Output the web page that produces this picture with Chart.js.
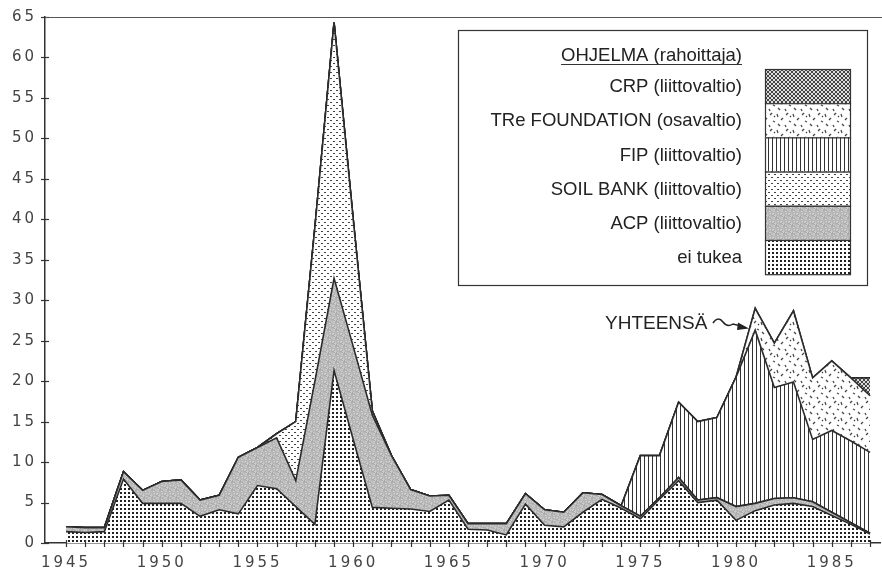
<!DOCTYPE html>
<html>
<head>
<meta charset="utf-8">
<script src="https://cdn.jsdelivr.net/npm/chart.js@4.4.0/dist/chart.umd.min.js"></script>
<style>
  html, body { margin: 0; padding: 0; background: #fff; }
  #wrap { width: 882px; height: 574px; }
</style>
</head>
<body>
<div id="wrap"><canvas id="chart" width="882" height="574"></canvas></div>
<script>
// years on the x axis
const years = [1945, 1946, 1947, 1948, 1949, 1950, 1951, 1952, 1953, 1954,
  1955, 1956, 1957, 1958, 1959, 1960, 1961, 1962, 1963, 1964,
  1965, 1966, 1967, 1968, 1969, 1970, 1971, 1972, 1973, 1974,
  1975, 1976, 1977, 1978, 1979, 1980, 1981, 1982, 1983, 1984,
  1985, 1986, 1987];

// stacked series, bottom to top
const eiTukea = [1.4, 1.3, 1.4, 7.9, 4.9, 4.9, 4.9, 3.3, 4.1, 3.6,
  7.1, 6.7, 4.5, 2.3, 21.3, 12.8, 4.4, 4.3, 4.2, 3.9,
  5.3, 1.7, 1.6, 1.0, 4.8, 2.2, 2.0, 3.8, 5.4, 4.3,
  3.0, 5.4, 7.7, 5.0, 5.3, 2.8, 4.0, 4.7, 4.9, 4.5,
  3.4, 2.3, 1.1];
const acp = [0.6, 0.6, 0.5, 0.9, 1.6, 2.7, 2.9, 2.0, 1.8, 7.0,
  4.7, 6.3, 3.2, 17.7, 11.4, 11.5, 11.4, 6.5, 2.4, 1.9,
  0.6, 0.7, 0.8, 1.4, 1.3, 1.9, 1.8, 2.4, 0.6, 0.3,
  0.3, 0.2, 0.4, 0.3, 0.3, 1.7, 0.9, 0.8, 0.7, 0.6,
  0.4, 0.2, 0.1];
const soilBank = [0, 0, 0, 0, 0, 0, 0, 0, 0, 0,
  0, 0.5, 7.3, 19.0, 31.6, 15.7, 0.5, 0, 0, 0,
  0, 0, 0, 0, 0, 0, 0, 0, 0, 0,
  0, 0, 0, 0, 0, 0, 0, 0, 0, 0,
  0, 0, 0];
const fip = [0, 0, 0, 0, 0, 0, 0, 0, 0, 0,
  0, 0, 0, 0, 0, 0, 0, 0, 0, 0,
  0, 0, 0, 0, 0, 0, 0, 0, 0, 0,
  7.5, 5.2, 9.3, 9.7, 9.9, 16.0, 21.4, 13.7, 14.3, 7.7,
  10.1, 10.1, 10.0];
const treFoundation = [0, 0, 0, 0, 0, 0, 0, 0, 0, 0,
  0, 0, 0, 0, 0, 0, 0, 0, 0, 0,
  0, 0, 0, 0, 0, 0, 0, 0, 0, 0,
  0, 0, 0, 0, 0, 0, 2.7, 5.5, 8.8, 7.6,
  8.6, 7.8, 7.0];
const crp = [0, 0, 0, 0, 0, 0, 0, 0, 0, 0,
  0, 0, 0, 0, 0, 0, 0, 0, 0, 0,
  0, 0, 0, 0, 0, 0, 0, 0, 0, 0,
  0, 0, 0, 0, 0, 0, 0, 0, 0, 0,
  0, 0, 2.2];

// labels
const seriesLabels = ["ei tukea", "ACP (liittovaltio)", "SOIL BANK (liittovaltio)",
  "FIP (liittovaltio)", "TRe FOUNDATION (osavaltio)", "CRP (liittovaltio)"];
const legendTitle = "OHJELMA (rahoittaja)";
const totalLabel = "YHTEENSÄ";
const xTickYears = [1945, 1950, 1955, 1960, 1965, 1970, 1975, 1980, 1985];
const yTicks = [0, 5, 10, 15, 20, 25, 30, 35, 40, 45, 50, 55, 60, 65];

const ctx = document.getElementById("chart").getContext("2d");

//builds a repeating fill pattern from a small tile
function makePattern(w, h, paint) {
  const tile = document.createElement("canvas");
  tile.width = w;
  tile.height = h;
  const g = tile.getContext("2d");
  g.fillStyle = "#fff";
  g.fillRect(0, 0, w, h);
  paint(g);
  return ctx.createPattern(tile, "repeat");
}

const patEi = makePattern(4, 4, (g) => {
  g.fillStyle = "#222";
  g.fillRect(0, 0, 2, 2);
});
const patAcp = makePattern(8, 8, (g) => {
  for (let x = 0; x < 8; x++) {
    for (let y = 0; y < 8; y++) {
      const v = 168 + ((x * 37 + y * 91 + x * y * 13) % 44);
      g.fillStyle = "rgb(" + v + "," + v + "," + v + ")";
      g.fillRect(x, y, 1, 1);
    }
  }
});
const patSoil = makePattern(6, 6, (g) => {
  g.fillStyle = "#444";
  g.fillRect(0, 0, 2, 1);
  g.fillRect(3, 3, 2, 1);
});
const patFip = makePattern(4, 1, (g) => {
  g.fillStyle = "#333";
  g.fillRect(0, 0, 1, 1);
});
const patTre = makePattern(16, 16, (g) => {
  g.strokeStyle = "#444";
  g.lineWidth = 1.2;
  const segs = [[2, 3, 4, 1], [9, 2, 10, 5], [13, 8, 15, 6], [5, 9, 7, 10],
    [1, 13, 2, 15], [10, 12, 12, 14], [6, 5, 7, 4]];
  segs.forEach((s) => {
    g.beginPath();
    g.moveTo(s[0], s[1]);
    g.lineTo(s[2], s[3]);
    g.stroke();
  });
});
const patCrp = makePattern(4, 4, (g) => {
  g.fillStyle = "#ddd";
  g.fillRect(0, 0, 4, 4);
  g.fillStyle = "#444";
  for (let i = 0; i < 4; i++) {
    g.fillRect(i, i, 1, 1);
    g.fillRect(3 - i, i, 1, 1);
  }
});

const seriesData = [eiTukea, acp, soilBank, fip, treFoundation, crp];
const patterns = [patEi, patAcp, patSoil, patFip, patTre, patCrp];

const datasets = seriesData.map((vals, i) => ({
  label: seriesLabels[i],
  data: vals.map((v, j) => ({ x: years[j], y: v })),
  backgroundColor: patterns[i],
  borderColor: "#2b2b2b",
  borderWidth: 1.6,
  fill: i == 0 ? "origin" : "-1",
  pointRadius: 0,
  tension: 0,
}));

//tick marks crossing both axes, drawn over the fills
const axisTicks = {
  id: "axisTicks",
  afterDatasetsDraw(chart) {
    const c = chart.ctx;
    const xs = chart.scales.x;
    const ys = chart.scales.y;
    const area = chart.chartArea;
    c.save();
    c.strokeStyle = "#333";
    c.lineWidth = 1.2;
    years.forEach((yr) => {
      const px = Math.round(xs.getPixelForValue(yr)) + 0.5;
      c.beginPath();
      c.moveTo(px, area.bottom - 3);
      c.lineTo(px, area.bottom + 4);
      c.stroke();
    });
    yTicks.forEach((v) => {
      const py = Math.round(ys.getPixelForValue(v)) + 0.5;
      c.beginPath();
      c.moveTo(area.left - 4, py);
      c.lineTo(area.left + 4, py);
      c.stroke();
    });
    c.restore();
  },
};

//letter spacing for the axis numbers only
const tickSpacing = {
  id: "tickSpacing",
  beforeDraw(chart) {
    chart.ctx.letterSpacing = "3px";
  },
  beforeDatasetsDraw(chart) {
    chart.ctx.letterSpacing = "0px";
  },
};

//top frame line, legend box and the YHTEENSÄ note
const extras = {
  id: "extras",
  afterDraw(chart) {
    const c = chart.ctx;
    const area = chart.chartArea;
    c.save();
    c.letterSpacing = "0px";
    c.strokeStyle = "#555";
    c.lineWidth = 1.2;
    c.beginPath();
    c.moveTo(area.left, area.top + 0.5);
    c.lineTo(882, area.top + 0.5);
    c.stroke();

    // legend box
    c.fillStyle = "#fff";
    c.fillRect(458, 30, 409, 255);
    c.strokeStyle = "#333";
    c.lineWidth = 1.2;
    c.strokeRect(458.5, 30.5, 409, 255);

    c.font = "18.5px 'Liberation Sans', Arial, sans-serif";
    c.fillStyle = "#222";
    c.textAlign = "right";
    c.textBaseline = "alphabetic";
    c.fillText(legendTitle, 742, 61);
    const tw = c.measureText(legendTitle).width;
    c.lineWidth = 1.2;
    c.beginPath();
    c.moveTo(742 - tw, 64.5);
    c.lineTo(742, 64.5);
    c.stroke();

    const rowTop = 69;
    const rowH = 34.2;
    c.textBaseline = "middle";
    for (let r = 0; r < 6; r++) {
      const di = 5 - r;
      const y0 = rowTop + r * rowH;
      c.fillStyle = patterns[di];
      c.fillRect(765, y0, 85, rowH);
      c.strokeStyle = "#333";
      c.strokeRect(765.5, y0 + 0.5, 85, rowH);
      c.fillStyle = "#222";
      c.fillText(seriesLabels[di], 742, y0 + rowH / 2 + 1);
    }

    // total annotation with wavy arrow
    c.font = "19px 'Liberation Sans', Arial, sans-serif";
    c.textAlign = "left";
    c.textBaseline = "alphabetic";
    c.fillText(totalLabel, 605, 329);
    c.strokeStyle = "#222";
    c.lineWidth = 1.5;
    c.beginPath();
    c.moveTo(713, 323);
    c.bezierCurveTo(716, 318, 720, 318, 723, 322);
    c.bezierCurveTo(726, 326, 730, 326, 733, 324);
    c.lineTo(741, 326);
    c.stroke();
    c.fillStyle = "#222";
    c.beginPath();
    c.moveTo(749, 328.5);
    c.lineTo(738, 322.5);
    c.lineTo(737, 330);
    c.closePath();
    c.fill();
    c.restore();
  },
};

const tickFont = { family: "'DejaVu Sans', sans-serif", size: 15 };

new Chart(ctx, {
  type: "line",
  data: { datasets: datasets },
  options: {
    responsive: false,
    animation: false,
    devicePixelRatio: 1,
    layout: { padding: { top: 13, right: 2, left: 0, bottom: 0 } },
    plugins: { legend: { display: false }, tooltip: { enabled: false } },
    elements: { line: { borderJoinStyle: "miter" } },
    scales: {
      x: {
        type: "linear",
        min: 1943.9,
        max: 1987.52,
        grid: { display: false, drawTicks: false },
        border: { display: true, color: "#333", width: 1.5 },
        ticks: {
          autoSkip: false,
          maxRotation: 0,
          padding: 11,
          color: "#444",
          font: tickFont,
          callback: (v) => (xTickYears.includes(v) ? String(v) : ""),
        },
        afterBuildTicks: (scale) => {
          scale.ticks = years.map((v) => ({ value: v }));
        },
        afterFit: (scale) => {
          scale.height = 31;
        },
      },
      y: {
        stacked: true,
        min: 0,
        max: 65,
        grid: { display: false, drawTicks: false },
        border: { display: true, color: "#333", width: 1.5 },
        ticks: {
          padding: 8,
          color: "#444",
          font: tickFont,
        },
        afterBuildTicks: (scale) => {
          scale.ticks = yTicks.map((v) => ({ value: v }));
        },
        afterFit: (scale) => {
          scale.width = 45;
        },
      },
    },
  },
  plugins: [tickSpacing, axisTicks, extras],
});
</script>
</body>
</html>
